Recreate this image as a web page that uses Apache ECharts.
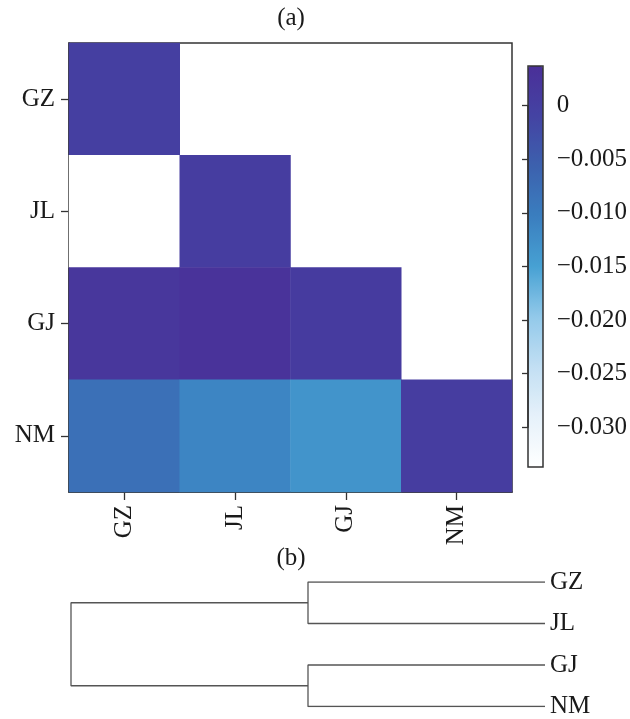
<!DOCTYPE html>
<html>
<head>
<meta charset="utf-8">
<script src="https://cdn.jsdelivr.net/npm/echarts@6/dist/echarts.min.js"></script>
<style>
html,body{margin:0;padding:0;background:#fff;}
#main{width:630px;height:719px;}
</style>
</head>
<body>
<div id="main"></div>
<script>
// ---- data ----
const rowNames = ['GZ', 'JL', 'GJ', 'NM'];
const colNames = ['GZ', 'JL', 'GJ', 'NM'];
// lower-triangle matrix values, one array per row (null = not drawn)
const rowGZ = [0.0000, null, null, null];
const rowJL = [-0.0337, 0.0005, null, null];
const rowGJ = [0.0018, 0.0028, 0.0008, null];
const rowNM = [-0.0080, -0.0113, -0.0132, 0.0005];
const colorMin = -0.0337;
const colorMax = 0.0037;
const colorTickMin = -0.030;
const colorTickMax = 0;
const colorTickStep = 0.005;
const paletteColors = ['#ffffff', '#e6f1fa', '#c2dff3', '#92c9ea', '#47a1d3', '#3a7ebf', '#3c61ae', '#4443a3', '#4a2f98'];

// dendrogram (hclust style: negative = leaf index, positive = merge index, 1-based)
const leafOrder = ['GZ', 'JL', 'GJ', 'NM'];
const mergePairs = [[-1, -2], [-3, -4], [1, 2]];
const mergeHeights = [0.5, 0.5, 1.0];

// ---- build ----
const matrix = [rowGZ, rowJL, rowGJ, rowNM];
const heatData = [];
matrix.forEach((row, r) => row.forEach((v, c) => { if (v !== null) heatData.push([c, r, v]); }));

const nodeInfo = [];
function nodeOf(id) {
  if (id < 0) return { h: 0, p: -id - 1 };
  return nodeInfo[id - 1];
}
const dendroSeries = [];
mergePairs.forEach((pair, i) => {
  const a = nodeOf(pair[0]), b = nodeOf(pair[1]);
  const h = mergeHeights[i];
  nodeInfo.push({ h: h, p: (a.p + b.p) / 2 });
  dendroSeries.push({
    type: 'line', xAxisIndex: 2, yAxisIndex: 2, showSymbol: false, silent: true,
    lineStyle: { color: '#555', width: 1.3 },
    data: [[a.h, a.p], [h, a.p], [h, b.p], [b.h, b.p]]
  });
});

const FONT = 'Liberation Serif';
const FS = 25;
const txt = { fontFamily: FONT, fontSize: FS, color: '#1a1a1a' };

const chart = echarts.init(document.getElementById('main'), null, { renderer: 'canvas' });
const option = {
  animation: false,
  backgroundColor: '#fff',
  title: [
    { text: '(a)', left: 291, top: 6, textAlign: 'center', padding: 0,
      textStyle: { fontFamily: FONT, fontSize: FS, fontWeight: 'normal', color: '#1a1a1a' } },
    { text: '(b)', left: 291, top: 546, textAlign: 'center', padding: 0,
      textStyle: { fontFamily: FONT, fontSize: FS, fontWeight: 'normal', color: '#1a1a1a' } }
  ],
  grid: [
    { left: 69, top: 43, width: 443, height: 449, show: true, borderColor: '#333', borderWidth: 1.5, backgroundColor: 'transparent' },
    { left: 528, top: 66, width: 15, height: 401, show: true, borderColor: '#333', borderWidth: 1.5, backgroundColor: 'transparent', z: 10 },
    { left: 71, top: 582, width: 474, height: 127 },
    { left: 528, top: 106, width: 15, height: 321 }
  ],
  visualMap: {
    type: 'continuous', seriesIndex: 0, dimension: 2, z: 1,
    min: colorMin, max: colorMax,
    left: 528, top: 66, itemWidth: 15, itemHeight: 401, padding: 0,
    calculable: false, showLabel: false, text: null, hoverLink: false,
    inRange: { color: paletteColors }
  },
  xAxis: [
    { type: 'category', gridIndex: 0, data: colNames,
      axisLine: { show: true, lineStyle: { color: '#333', width: 1.5 } },
      axisTick: { show: true, alignWithLabel: true, length: 8, lineStyle: { color: '#333', width: 1.3 } },
      axisLabel: Object.assign({ rotate: 90, margin: 13 }, txt),
      splitLine: { show: false } },
    { type: 'value', gridIndex: 1, show: false },
    { type: 'value', gridIndex: 2, inverse: true, min: 0, max: 1, show: false },
    { type: 'value', gridIndex: 3, show: false }
  ],
  yAxis: [
    { type: 'category', gridIndex: 0, data: rowNames, inverse: true,
      axisLine: { show: true, lineStyle: { color: '#333', width: 1.5 } },
      axisTick: { show: true, alignWithLabel: true, length: 8, lineStyle: { color: '#333', width: 1.3 } },
      axisLabel: Object.assign({ margin: 14 }, txt),
      splitLine: { show: false } },
    { type: 'value', gridIndex: 1, min: colorMin, max: colorMax, show: false },
    { type: 'value', gridIndex: 2, position: 'right', inverse: true, min: 0, max: leafOrder.length - 1,
      axisLine: { show: false }, axisTick: { show: false }, splitLine: { show: false },
      axisLabel: Object.assign({ margin: 5, customValues: leafOrder.map((d, i) => i),
        formatter: v => leafOrder[Math.round(v)] }, txt) },
    { type: 'value', gridIndex: 3, position: 'right', min: colorTickMin, max: colorTickMax, interval: colorTickStep,
      z: 20,
      axisLine: { show: true, lineStyle: { color: '#333', width: 1.5 } },
      axisTick: { show: true, inside: true, length: 6, lineStyle: { color: '#333', width: 1.3 } },
      axisLabel: Object.assign({ margin: 14, showMinLabel: true, showMaxLabel: true,
        formatter: v => Math.abs(v) < 1e-9 ? '0' : '\u2212' + Math.abs(v).toFixed(3) }, txt),
      splitLine: { show: false } }
  ],
  series: [
    { type: 'heatmap', xAxisIndex: 0, yAxisIndex: 0, data: heatData, silent: true,
      itemStyle: { borderWidth: 0 }, emphasis: { disabled: true } }
  ].concat(dendroSeries)
};
chart.setOption(option);
// align the tick axis with the colour scale of the bar
const yTop = chart.convertToPixel({ yAxisIndex: 1 }, colorTickMax);
const yBot = chart.convertToPixel({ yAxisIndex: 1 }, colorTickMin);
chart.setOption({ grid: [{}, {}, {}, { top: yTop, height: yBot - yTop }] });
</script>
</body>
</html>
